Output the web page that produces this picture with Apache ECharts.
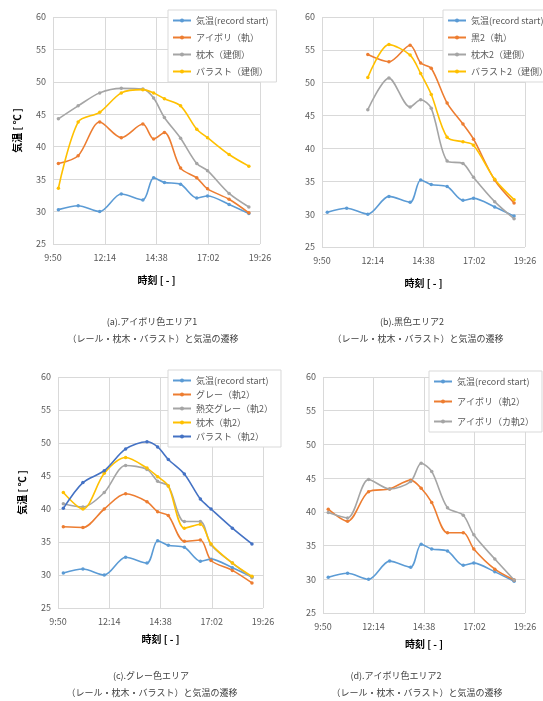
<!DOCTYPE html>
<html>
<head>
<meta charset="utf-8">
<script src="https://cdn.jsdelivr.net/npm/echarts@6/dist/echarts.min.js"></script>
<style>
html, body { margin: 0; padding: 0; background: #fff; }
#main { width: 543px; height: 701px; }
</style>
</head>
<body>
<div id="main"></div>
<script>
// measurement times (shared by all panels)
var times = ['10:05', '11:00', '12:00', '13:00', '14:00', '14:30', '15:00', '15:45', '16:30', '17:00', '18:00', '18:55'];
var axisTicks = ['9:50', '12:14', '14:38', '17:02', '19:26'];
var airTemp = [30.3, 30.9, 30.0, 32.7, 31.8, 35.2, 34.5, 34.2, 32.1, 32.4, 31.1, 29.7];

// (a) ivory area 1
var ivoryRail = [37.4, 38.6, 43.8, 41.4, 43.5, 41.2, 42.2, 36.7, 35.2, 33.5, 31.9, 29.8];
var sleeperA = [44.3, 46.3, 48.3, 49.0, 48.9, 47.5, 44.5, 41.3, 37.4, 36.3, 32.8, 30.7];
var ballastA = [33.6, 43.8, 45.3, 48.3, 48.8, 48.3, 47.4, 46.3, 42.7, 41.4, 38.8, 37.0];

// (b) black area 2
var blackRail = [null, null, 54.3, 53.2, 55.7, 53.0, 52.2, 46.9, 43.7, 41.4, 35.2, 31.7];
var sleeperB = [null, null, 45.9, 50.7, 46.3, 47.4, 46.1, 38.1, 37.7, 35.6, 31.9, 29.3];
var ballastB = [null, null, 50.8, 55.8, 54.2, 51.4, 48.2, 41.7, 41.0, 40.5, 35.3, 32.2];

// (c) gray area
var grayRail = [37.3, 37.2, 40.0, 42.3, 41.1, 39.6, 39.0, 35.1, 35.3, 32.2, 30.7, 28.8];
var heatGray = [40.8, 40.3, 42.5, 46.6, 46.0, 44.2, 43.5, 38.1, 38.1, 34.6, 31.8, 29.6];
var sleeperC = [42.5, 40.0, 45.4, 47.8, 46.2, 44.9, 43.5, 37.1, 37.7, 34.7, 31.8, 29.8];
var ballastC = [40.1, 44.0, 45.8, 49.1, 50.2, 49.4, 47.5, 45.3, 41.5, 40.0, 37.1, 34.7];

// (d) ivory area 2
var ivoryRail2 = [40.4, 38.6, 43.0, 43.4, 44.7, 43.5, 41.4, 36.9, 36.9, 34.5, 31.5, 29.9];
var ivoryGauge2 = [39.9, 39.1, 44.8, 43.4, 44.5, 47.2, 46.0, 40.6, 39.5, 36.6, 33.0, 29.9];

var BASE = 9 * 60 + 50;
function toMin (s) {
  var p = s.split(':');
  return +p[0] * 60 + +p[1] - BASE;
}
function fmt (v) {
  var m = v + BASE;
  var mm = m % 60;
  return Math.floor(m / 60) + ':' + (mm < 10 ? '0' : '') + mm;
}
function pairs (vals) {
  return vals.map(function (v, i) { return [toMin(times[i]), v]; });
}

var FONT = 'Noto Sans CJK JP';
var C_BLUE = '#5B9BD5', C_ORANGE = '#ED7D31', C_GRAY = '#A5A5A5', C_YELLOW = '#FFC000', C_DBLUE = '#4472C4';

function line (name, vals, color, idx) {
  return {
    name: name,
    type: 'line',
    xAxisIndex: idx,
    yAxisIndex: idx,
    smooth: 0.3,
    symbol: 'circle',
    symbolSize: 3.5,
    lineStyle: { width: 1.6, color: color },
    itemStyle: { color: color },
    data: pairs(vals)
  };
}

var grids = [
  { left: 53, top: 17, width: 207, height: 227 },
  { left: 322, top: 17, width: 203, height: 230 },
  { left: 58, top: 377, width: 205, height: 231 },
  { left: 323, top: 377, width: 202, height: 236 }
];

var xAxes = grids.map(function (g, i) {
  return {
    gridIndex: i,
    type: 'value',
    min: 0,
    max: 576,
    interval: 144,
    name: '時刻 [ - ]',
    nameLocation: 'middle',
    nameGap: i < 2 ? 31 : 26,
    nameTextStyle: { fontFamily: FONT, fontSize: 10, fontWeight: 'bold', color: '#000' },
    axisLine: { show: false },
    axisTick: { show: false },
    axisLabel: { fontFamily: FONT, fontSize: 9, color: '#595959', margin: 9, formatter: fmt },
    splitLine: { lineStyle: { color: '#d9d9d9', width: 1 } }
  };
});

var yAxes = grids.map(function (g, i) {
  return {
    gridIndex: i,
    type: 'value',
    min: 25,
    max: 60,
    interval: 5,
    name: (i === 0 || i === 2) ? '気温 [ ℃ ]' : '',
    nameLocation: 'middle',
    nameGap: 31,
    nameTextStyle: { fontFamily: FONT, fontSize: 10, fontWeight: 'bold', color: '#000' },
    axisLine: { show: false },
    axisTick: { show: false },
    axisLabel: { fontFamily: FONT, fontSize: 9, color: '#595959', margin: 7 },
    splitLine: { lineStyle: { color: '#d9d9d9', width: 1 } }
  };
});

function legend (names, left, top, gap) {
  return {
    data: names,
    orient: 'vertical',
    left: left,
    top: top,
    itemGap: gap,
    itemWidth: 18,
    itemHeight: 5,
    padding: [6, 8, 6, 4],
    borderColor: '#d9d9d9',
    borderWidth: 1,
    backgroundColor: '#fff',
    selectedMode: false,
    textStyle: { fontFamily: FONT, fontSize: 9, color: '#595959' }
  };
}

function caption (text, x, y) {
  return {
    text: text,
    left: x,
    top: y,
    textAlign: 'center',
    textStyle: { fontFamily: FONT, fontSize: 9, fontWeight: 'normal', color: '#404040' }
  };
}

var myChart = echarts.init(document.getElementById('main'));
myChart.setOption({
  backgroundColor: '#fff',
  animation: false,
  title: [
    caption('(a).アイボリ色エリア1', 147, 312),
    caption('（レール・枕木・バラスト）と気温の遷移', 148, 329),
    caption('(b).黒色エリア2', 407, 312),
    caption('（レール・枕木・バラスト）と気温の遷移', 413, 329),
    caption('(c).グレー色エリア', 146, 666),
    caption('（レール・枕木・バラスト）と気温の遷移', 147, 683),
    caption('(d).アイボリ色エリア2', 391, 666),
    caption('（レール・枕木・バラスト）と気温の遷移', 412, 683)
  ],
  grid: grids,
  xAxis: xAxes,
  yAxis: yAxes,
  legend: [
    legend(['気温(record start)', 'アイボリ（軌）', '枕木（建側）', 'バラスト（建側）'], 168, 10, 8),
    legend(['気温(record start)', '黒2（軌）', '枕木2（建側）', 'バラスト2（建側）'], 443, 10, 8),
    legend(['気温(record start)', 'グレー（軌2）', '熱交グレー（軌2）', '枕木（軌2）', 'バラスト（軌2）'], 168, 370, 5),
    legend(['気温(record start)', 'アイボリ（軌2）', 'アイボリ（カ軌2）'], 429, 371, 11)
  ],
  series: [
    line('気温(record start)', airTemp, C_BLUE, 0),
    line('アイボリ（軌）', ivoryRail, C_ORANGE, 0),
    line('枕木（建側）', sleeperA, C_GRAY, 0),
    line('バラスト（建側）', ballastA, C_YELLOW, 0),

    line('気温(record start)', airTemp, C_BLUE, 1),
    line('黒2（軌）', blackRail, C_ORANGE, 1),
    line('枕木2（建側）', sleeperB, C_GRAY, 1),
    line('バラスト2（建側）', ballastB, C_YELLOW, 1),

    line('気温(record start)', airTemp, C_BLUE, 2),
    line('グレー（軌2）', grayRail, C_ORANGE, 2),
    line('熱交グレー（軌2）', heatGray, C_GRAY, 2),
    line('枕木（軌2）', sleeperC, C_YELLOW, 2),
    line('バラスト（軌2）', ballastC, C_DBLUE, 2),

    line('気温(record start)', airTemp, C_BLUE, 3),
    line('アイボリ（軌2）', ivoryRail2, C_ORANGE, 3),
    line('アイボリ（カ軌2）', ivoryGauge2, C_GRAY, 3)
  ]
});
</script>
</body>
</html>
